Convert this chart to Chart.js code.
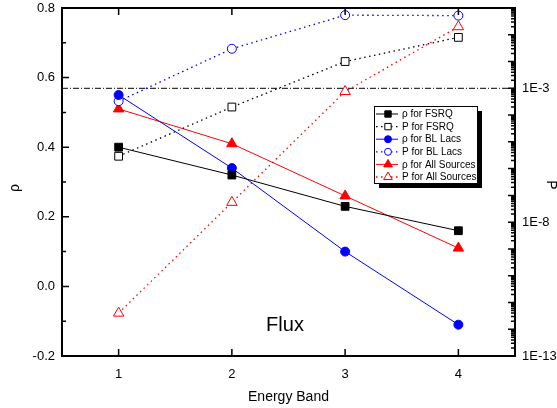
<!DOCTYPE html>
<html>
<head>
<meta charset="utf-8">
<script src="https://cdn.jsdelivr.net/npm/chart.js@4/dist/chart.umd.min.js"></script>
<style>
  html, body { margin: 0; padding: 0; background: #fff; }
  #wrap { width: 557px; height: 408px; position: relative; }
</style>
</head>
<body>
<div id="wrap"><canvas id="myChart"></canvas></div>
<script>
// data
const bands = [1, 2, 3, 4];
const rhoFSRQ = [0.40, 0.32, 0.23, 0.16];
const pFSRQ = [2.9e-6, 2e-4, 1e-2, 8e-2];
const rhoBL = [0.55, 0.34, 0.10, -0.11];
const pBL = [3.3e-4, 3e-2, 0.54, 0.52];
const rhoAll = [0.51, 0.41, 0.26, 0.11];
const pAll = [4e-12, 5.5e-8, 7.6e-4, 0.2];

const rhoTicks = [-0.2, 0.0, 0.2, 0.4, 0.6, 0.8];
const pTicks = [1e-13, 1e-8, 1e-3];
const pTickLabels = ['1E-13', '1E-8', '1E-3'];
const refP = 1e-3; // significance level line

const FONT = '"Liberation Sans", Arial, sans-serif';
const toXY = (ys) => bands.map((b, i) => ({ x: b, y: ys[i] }));

function rhoSet(label, ys, color, style, r) {
    return {
        label: label, data: toXY(ys), yAxisID: 'y',
        borderColor: color, backgroundColor: color, borderWidth: 1,
        pointStyle: style, pointRadius: r, pointBorderColor: color,
        pointBackgroundColor: color, pointBorderWidth: 1, clip: false
    };
}
function pSet(label, ys, color, style, r) {
    return {
        label: label, data: toXY(ys), yAxisID: 'y2',
        borderColor: color, backgroundColor: '#fff', borderWidth: 1.3,
        borderDash: [1.5, 3.5],
        pointStyle: style, pointRadius: r, pointBorderColor: color,
        pointBackgroundColor: '#fff', pointBorderWidth: 1, clip: false
    };
}

const datasets = [
    rhoSet('ρ for FSRQ', rhoFSRQ, '#000', 'rect', 5.5),
    pSet('P for FSRQ', pFSRQ, '#000', 'rect', 5.5),
    rhoSet('ρ for BL Lacs', rhoBL, '#0000ff', 'circle', 4.5),
    pSet('P for BL Lacs', pBL, '#0000ff', 'circle', 4.5),
    rhoSet('ρ for All Sources', rhoAll, '#ff0000', 'triangle', 6),
    pSet('P for All Sources', pAll, '#ff0000', 'triangle', 6),
    {
        label: 'ref', data: [{ x: 0.5, y: refP }, { x: 4.5, y: refP }], yAxisID: 'y2',
        borderColor: '#000', borderWidth: 1, borderDash: [6, 2, 1, 2],
        pointRadius: 0, clip: false
    }
];

// frame, ticks, labels, legend
const decor = {
    id: 'decor',
    afterDraw(chart) {
        const ctx = chart.ctx;
        const a = chart.chartArea;
        const sx = chart.scales.x, sy = chart.scales.y, sp = chart.scales.y2;
        ctx.save();
        ctx.strokeStyle = '#000';
        ctx.fillStyle = '#000';

        // ticks
        ctx.lineWidth = 1.5;
        ctx.beginPath();
        bands.forEach(b => {
            const px = sx.getPixelForValue(b);
            ctx.moveTo(px, a.bottom); ctx.lineTo(px, a.bottom - 7);
            ctx.moveTo(px, a.top); ctx.lineTo(px, a.top + 7);
        });
        for (let v = -0.2; v <= 0.801; v += 0.1) {
            const py = sy.getPixelForValue(v);
            const major = Math.abs(Math.round(v * 10)) % 2 === 0;
            ctx.moveTo(a.left, py); ctx.lineTo(a.left + (major ? 7 : 4), py);
        }
        for (let e = -13; e <= 0; e++) {
            for (let m = 1; m <= 9; m++) {
                const v = m * Math.pow(10, e);
                if (v > 1.0001) break;
                const py = sp.getPixelForValue(v);
                ctx.moveTo(a.right, py); ctx.lineTo(a.right - (m === 1 ? 7 : 4), py);
            }
        }
        ctx.stroke();

        // frame
        ctx.lineWidth = 2;
        ctx.strokeRect(a.left, a.top, a.right - a.left, a.bottom - a.top);

        // tick labels
        ctx.font = '13px ' + FONT;
        ctx.textAlign = 'right';
        ctx.textBaseline = 'middle';
        rhoTicks.forEach(v => ctx.fillText(v.toFixed(1), a.left - 7, sy.getPixelForValue(v)));
        ctx.textAlign = 'left';
        pTicks.forEach((v, i) => ctx.fillText(pTickLabels[i], a.right + 7, sp.getPixelForValue(v)));
        ctx.textAlign = 'center';
        ctx.textBaseline = 'top';
        bands.forEach(b => ctx.fillText(String(b), sx.getPixelForValue(b), a.bottom + 12));

        // axis titles
        ctx.font = '14px ' + FONT;
        ctx.textBaseline = 'middle';
        ctx.fillText('Energy Band', (a.left + a.right) / 2, 397);
        ctx.save();
        ctx.translate(15, 188);
        ctx.rotate(-Math.PI / 2);
        ctx.fillText('ρ', 0, 0);
        ctx.restore();
        ctx.save();
        ctx.translate(551, 185);
        ctx.rotate(Math.PI / 2);
        ctx.fillText('P', 0, 0);
        ctx.restore();

        ctx.font = '20px ' + FONT;
        ctx.fillText('Flux', 285, 325);

        // legend box with shadow
        const lx = 374, ly = 106, lw = 103, lh = 77;
        ctx.fillRect(lx + 5, ly + 5, lw, lh);
        ctx.fillStyle = '#fff';
        ctx.fillRect(lx, ly, lw, lh);
        ctx.lineWidth = 1;
        ctx.strokeRect(lx + 0.5, ly + 0.5, lw, lh);
        ctx.font = '10px ' + FONT;
        ctx.textAlign = 'left';
        datasets.slice(0, 6).forEach((d, i) => {
            const yy = ly + 8 + i * 12.6;
            ctx.strokeStyle = d.borderColor;
            ctx.lineWidth = d.borderDash ? 1.3 : 1;
            ctx.setLineDash(d.borderDash || []);
            ctx.beginPath();
            ctx.moveTo(lx + 2, yy); ctx.lineTo(lx + 24, yy);
            ctx.stroke();
            ctx.setLineDash([]);
            ctx.fillStyle = d.pointBackgroundColor;
            ctx.strokeStyle = d.pointBorderColor;
            ctx.lineWidth = 1;
            Chart.helpers.drawPoint(ctx, { pointStyle: d.pointStyle, radius: d.pointRadius - 1, rotation: 0, borderWidth: 1 }, lx + 14, yy);
            ctx.fillStyle = '#000';
            ctx.fillText(d.label, lx + 28, yy + 0.5);
        });
        ctx.restore();
    }
};

new Chart(document.getElementById('myChart'), {
    type: 'line',
    data: { datasets: datasets },
    options: {
        responsive: true,
        maintainAspectRatio: false,
        animation: false,
        layout: { padding: { left: 62, right: 42, top: 8, bottom: 52 } },
        plugins: { legend: { display: false }, tooltip: { enabled: false } },
        scales: {
            x: { type: 'linear', min: 0.5, max: 4.5, display: false },
            y: { type: 'linear', min: -0.2, max: 0.8, display: false },
            y2: { type: 'logarithmic', min: 1e-13, max: 1, display: false, position: 'right' }
        }
    },
    plugins: [decor]
});
</script>
</body>
</html>
